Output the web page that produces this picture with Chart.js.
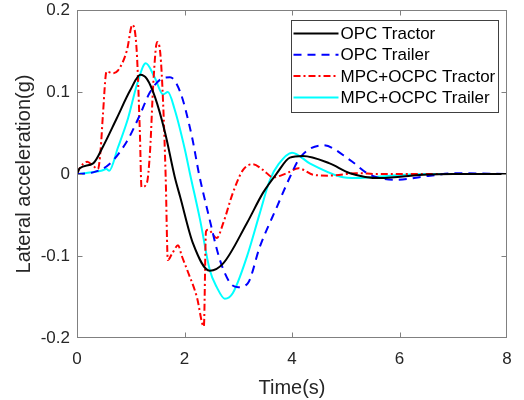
<!DOCTYPE html>
<html>
<head>
<meta charset="utf-8">
<script src="https://cdn.jsdelivr.net/npm/chart.js@4.4.1/dist/chart.umd.min.js"></script>
<style>
  html, body { margin: 0; padding: 0; background: #fff; }
  #wrap { width: 524px; height: 400px; }
</style>
</head>
<body>
<div id="wrap"><canvas id="latChart" width="524" height="400"></canvas></div>
<script>
// series names, as in the legend
const seriesNames = ["OPC Tractor", "OPC Trailer", "MPC+OCPC Tractor", "MPC+OCPC Trailer"];
const xTicks = [0, 2, 4, 6, 8];
const yTicks = [-0.2, -0.1, 0, 0.1, 0.2];

// OPC Tractor (black)
const opcTractorT = [0, 0.05, 0.3, 0.48, 0.74, 0.99, 1.18, 1.3, 1.45, 1.64, 1.82, 1.92, 2.16, 2.47, 2.72, 3.16, 3.46, 3.72, 3.96, 4.2, 4.7, 5.08, 5.64, 6.44, 7, 8];
const opcTractorV = [0, 0.007, 0.013, 0.033, 0.068, 0.102, 0.121, 0.116, 0.094, 0.05, -0.004, -0.028, -0.085, -0.118, -0.109, -0.06, -0.023, 0.001, 0.02, 0.022, 0.013, 0.001, -0.005, -0.001, 0, 0];

// OPC Trailer (blue dashed)
const opcTrailerT = [0, 0.3, 0.6, 0.93, 1.17, 1.36, 1.6, 1.73, 1.92, 2.14, 2.27, 2.44, 2.66, 2.85, 3.0, 3.18, 3.4, 3.72, 3.96, 4.15, 4.58, 5.08, 5.45, 5.95, 6.57, 7.07, 8];
const opcTrailerV = [0, 0.002, 0.012, 0.04, 0.072, 0.1, 0.117, 0.118, 0.1, 0.045, 0, -0.048, -0.105, -0.133, -0.138, -0.133, -0.089, -0.04, -0.004, 0.02, 0.035, 0.017, -0.001, -0.007, -0.002, 0.001, 0];

// MPC+OCPC Tractor (red dash-dot)
const mpcTractorT = [0, 0.05, 0.19, 0.3, 0.39, 0.44, 0.48, 0.55, 0.67, 0.76, 0.93, 1.03, 1.11, 1.17, 1.2, 1.3, 1.36, 1.42, 1.49, 1.55, 1.6, 1.65, 1.69, 1.77, 1.88, 1.95, 2.05, 2.23, 2.36, 2.4, 2.44, 2.6, 2.72, 2.9, 3.09, 3.27, 3.46, 3.65, 3.9, 4.12, 4.4, 4.7, 5.2, 5.6, 8];
const mpcTractorV = [0, 0.007, 0.015, 0.01, 0.006, 0.03, 0.07, 0.125, 0.123, 0.126, 0.151, 0.182, 0.151, 0.05, -0.016, -0.011, 0.029, 0.111, 0.161, 0.147, 0.09, -0.004, -0.105, -0.097, -0.087, -0.1, -0.117, -0.15, -0.186, -0.07, -0.068, -0.078, -0.06, -0.023, 0.005, 0.012, 0.005, -0.004, 0.001, 0.007, -0.001, -0.002, 0.001, 0, 0];

// MPC+OCPC Trailer (cyan)
const mpcTrailerT = [0, 0.15, 0.45, 0.55, 0.6, 0.76, 0.95, 1.12, 1.28, 1.45, 1.6, 1.69, 1.82, 2.01, 2.1, 2.29, 2.47, 2.6, 2.75, 2.9, 3.16, 3.4, 3.59, 3.75, 4.0, 4.33, 4.89, 5.2, 5.82, 6.5, 8];
const mpcTrailerV = [0, 0.001, 0.004, 0.006, 0.004, 0.032, 0.068, 0.11, 0.135, 0.117, 0.097, 0.1, 0.078, 0.029, 0.001, -0.056, -0.117, -0.138, -0.152, -0.145, -0.101, -0.048, -0.007, 0.012, 0.026, 0.013, -0.003, -0.005, -0.002, 0, 0];

const FONT = "'Liberation Sans', Arial, sans-serif";
const TEXT = "#262626";

function toPoints(ts, vs) {
  return ts.map((t, i) => ({ x: t, y: vs[i] }));
}

function fmtTick(v) {
  const r = Math.round(v * 10) / 10;
  return r === 0 ? "0" : r.toFixed(1);
}

// MATLAB-like box with inward ticks
const framePlugin = {
  id: "frame",
  afterDatasetsDraw(chart) {
    const { ctx, chartArea: a, scales } = chart;
    const L = Math.round(a.left) + 0.5, R = Math.round(a.right) - 0.5;
    const T = Math.round(a.top) + 0.5, B = Math.round(a.bottom) - 0.5;
    ctx.save();
    ctx.strokeStyle = "#808080";
    ctx.lineWidth = 1;
    ctx.strokeRect(L, T, R - L, B - T);
    ctx.beginPath();
    xTicks.slice(1, -1).forEach((v) => {
      const x = Math.round(scales.x.getPixelForValue(v)) + 0.5;
      ctx.moveTo(x, B); ctx.lineTo(x, B - 5);
      ctx.moveTo(x, T); ctx.lineTo(x, T + 5);
    });
    yTicks.slice(1, -1).forEach((v) => {
      const y = Math.round(scales.y.getPixelForValue(v)) + 0.5;
      ctx.moveTo(L, y); ctx.lineTo(L + 5, y);
      ctx.moveTo(R, y); ctx.lineTo(R - 5, y);
    });
    ctx.stroke();
    ctx.restore();
  },
};

// legend drawn inside the plot, top right
const boxLegend = {
  id: "boxLegend",
  afterDraw(chart) {
    const { ctx, chartArea: a } = chart;
    const w = 207, h = 92;
    const left = Math.round(a.right - 9 - w) + 0.5;
    const top = Math.round(a.top + 10) + 0.5;
    ctx.save();
    ctx.fillStyle = "#fff";
    ctx.fillRect(left, top, w, h);
    ctx.strokeStyle = "#404040";
    ctx.lineWidth = 1;
    ctx.strokeRect(left, top, w, h);
    ctx.font = "17px " + FONT;
    ctx.textBaseline = "middle";
    ctx.fillStyle = "#000";
    chart.data.datasets.forEach((ds, i) => {
      const y = top + 13 + i * 21.3;
      ctx.beginPath();
      ctx.strokeStyle = ds.borderColor;
      ctx.lineWidth = ds.borderWidth;
      ctx.setLineDash(ds.borderDash || []);
      ctx.moveTo(left + 2, y);
      ctx.lineTo(left + 47, y);
      ctx.stroke();
      ctx.setLineDash([]);
      ctx.fillText(ds.label, left + 49, y + 1);
    });
    ctx.restore();
  },
};

const ctx = document.getElementById("latChart").getContext("2d");
new Chart(ctx, {
  type: "line",
  data: {
    datasets: [
      {
        label: seriesNames[0],
        data: toPoints(opcTractorT, opcTractorV),
        borderColor: "#000000",
        borderWidth: 2,
      },
      {
        label: seriesNames[1],
        data: toPoints(opcTrailerT, opcTrailerV),
        borderColor: "#0000ff",
        borderWidth: 2,
        borderDash: [8, 6],
      },
      {
        label: seriesNames[2],
        data: toPoints(mpcTractorT, mpcTractorV),
        borderColor: "#ff0000",
        borderWidth: 2,
        borderDash: [7, 3, 2, 3],
      },
      {
        label: seriesNames[3],
        data: toPoints(mpcTrailerT, mpcTrailerV),
        borderColor: "#00ffff",
        borderWidth: 2,
      },
    ],
  },
  options: {
    responsive: false,
    animation: false,
    devicePixelRatio: 1,
    layout: { padding: { left: 0, right: 17, top: 10, bottom: 0 } },
    elements: {
      point: { radius: 0 },
      line: { cubicInterpolationMode: "monotone", fill: false },
    },
    plugins: {
      legend: { display: false },
      tooltip: { enabled: false },
    },
    scales: {
      x: {
        type: "linear",
        min: 0,
        max: 8,
        afterBuildTicks: (s) => { s.ticks = xTicks.map((v) => ({ value: v })); },
        afterFit: (s) => { s.height = 62; s.paddingLeft = 0; s.paddingRight = 0; },
        grid: { display: false, drawTicks: false },
        border: { display: false },
        ticks: {
          padding: 11,
          color: TEXT,
          font: { family: FONT, size: 17 },
          callback: (v) => String(v),
        },
        title: {
          display: true,
          text: "Time(s)",
          color: TEXT,
          font: { family: FONT, size: 20 },
          padding: { top: 6, bottom: 0 },
        },
      },
      y: {
        type: "linear",
        min: -0.2,
        max: 0.2,
        afterBuildTicks: (s) => { s.ticks = yTicks.map((v) => ({ value: v })); },
        afterFit: (s) => { s.width = 77; s.paddingTop = 0; s.paddingBottom = 0; },
        grid: { display: false, drawTicks: false },
        border: { display: false },
        ticks: {
          padding: 7,
          color: TEXT,
          font: { family: FONT, size: 17 },
          callback: (v) => fmtTick(v),
        },
        title: {
          display: true,
          text: "Lateral acceleration(g)",
          color: TEXT,
          font: { family: FONT, size: 20 },
          padding: { top: 12, bottom: 0 },
        },
      },
    },
  },
  plugins: [framePlugin, boxLegend],
});
</script>
</body>
</html>
